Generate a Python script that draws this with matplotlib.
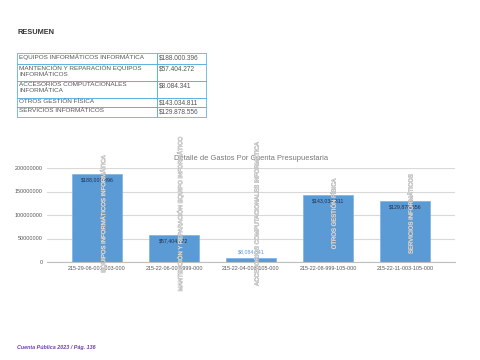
import matplotlib.pyplot as plt
import matplotlib.patheffects as pe
from matplotlib.patches import Rectangle
import numpy as np

# datos
cuentas = ['215-29-06-001-003-000', '215-22-06-007-999-000', '215-22-04-008-105-000',
           '215-22-08-999-105-000', '215-22-11-003-105-000']
nombres = ['EQUIPOS INFORMÁTICOS INFORMÁTICA',
           'MANTENCIÓN Y REPARACIÓN EQUIPO INFORMÁTICO',
           'ACCESORIOS COMPUTACIONALES INFORMÁTICA',
           'OTROS GESTIÓN FÍSICA',
           'SERVICIOS INFORMÁTICOS']
montos = [188000396, 57404272, 8084341, 143034811, 129878556]

tabla_nombres = ['EQUIPOS INFORMÁTICOS INFORMÁTICA',
                 'MANTENCIÓN Y REPARACIÓN EQUIPOS\nINFORMÁTICOS',
                 'ACCESORIOS COMPUTACIONALES\nINFORMÁTICA',
                 'OTROS GESTIÓN FÍSICA',
                 'SERVICIOS INFORMÁTICOS']

plt.rcParams['font.family'] = ['Liberation Sans', 'DejaVu Sans']

fig = plt.figure(figsize=(4.8, 3.6), dpi=100)

# fondo en pixeles para el texto de la pagina
bg = fig.add_axes([0, 0, 1, 1])
bg.set_xlim(0, 480)
bg.set_ylim(360, 0)
bg.axis('off')

bg.text(17, 33, 'RESUMEN', fontsize=5.3, fontweight='bold', color='#333333',
        va='center', ha='left')

# tabla
borde = '#5bb4e0'
filas = [53, 64, 81, 98, 107, 117]
x0, x1, x2 = 17, 157, 206
for i, (nom, m) in enumerate(zip(tabla_nombres, montos)):
    top, bot = filas[i], filas[i + 1]
    bg.add_patch(Rectangle((x0, top), x1 - x0, bot - top, fill=False,
                           edgecolor=borde, lw=0.6))
    bg.add_patch(Rectangle((x1, top), x2 - x1, bot - top, fill=False,
                           edgecolor=borde, lw=0.6))
    bg.text(x0 + 2, top + 1.2, nom, fontsize=4.6, color='#555555',
            va='top', ha='left', linespacing=1.15)
    bg.text(x1 + 2, top + 1.2, '$' + f'{m:,}'.replace(',', '.'), fontsize=4.7,
            color='#555555', va='top', ha='left')

bg.text(17, 348, 'Cuenta Pública 2023 / Pág. 136', fontsize=3.9, style='italic',
        fontweight='bold', color='#6b3fa8', va='center', ha='left')

# grafico
ax = fig.add_axes([47 / 480, 1 - 262 / 360, 408 / 480, 94 / 360])
x = np.arange(len(cuentas))
bars = ax.bar(x, montos, width=0.64, color='#5b9bd5', edgecolor='#7fb2e0', lw=0.5,
              zorder=2)
ax.set_xlim(-0.65, 4.65)
ax.set_ylim(0, 200000000)
ax.set_yticks([0, 50000000, 100000000, 150000000, 200000000])
ax.set_yticklabels(['0', '50000000', '100000000', '150000000', '200000000'])
ax.set_xticks(x)
ax.set_xticklabels(cuentas)
ax.tick_params(length=0, labelsize=3.9, colors='#555555', pad=3)
ax.yaxis.grid(True, color='#d9d9d9', lw=0.8, zorder=0)
for s in ['top', 'right', 'left']:
    ax.spines[s].set_visible(False)
ax.spines['bottom'].set_color('#bfbfbf')
ax.spines['bottom'].set_linewidth(0.8)

ax.set_title('Detalle de Gastos Por Cuenta Presupuestaria', fontsize=5.4,
             color='#777777', pad=6)

for i, m in enumerate(montos):
    lab = '$' + f'{m:,}'
    if m > 30000000:
        ax.annotate(lab, (i, m), xytext=(0, -2.5), textcoords='offset points',
                    ha='center', va='top', fontsize=3.8, color='#1f2d4d', zorder=3)
    else:
        ax.annotate(lab, (i, m), xytext=(0, 3), textcoords='offset points',
                    ha='center', va='bottom', fontsize=3.8, color='#5b9bd5', zorder=3)

for i, nom in enumerate(nombres):
    ax.text(i + 0.08, 102000000, nom, rotation=90, ha='center', va='center',
            fontsize=4.3, color='#eeeeee', clip_on=False, zorder=4,
            path_effects=[pe.withStroke(linewidth=0.45, foreground='#a8a8a8')])

fig.savefig('out.png', dpi=100)
